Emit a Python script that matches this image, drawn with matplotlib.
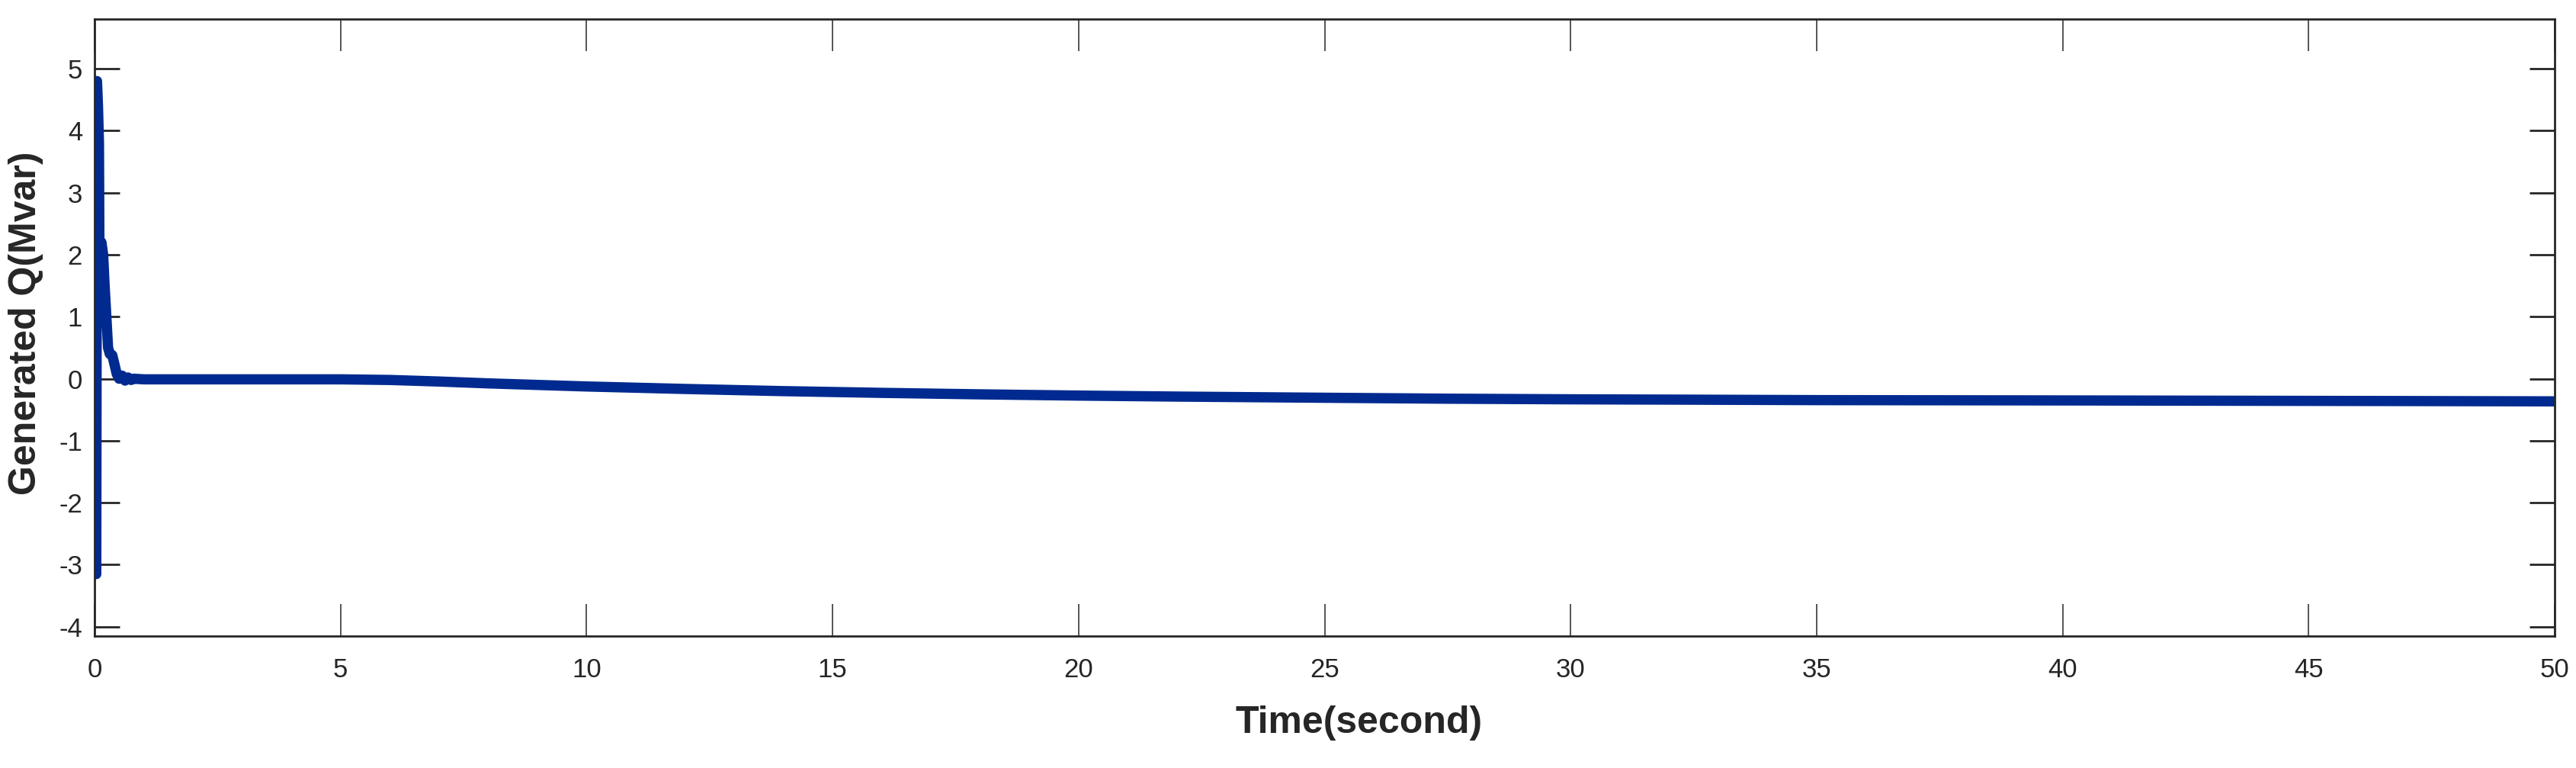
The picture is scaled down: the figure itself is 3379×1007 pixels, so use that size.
import matplotlib
matplotlib.use("Agg")
import matplotlib.pyplot as plt

# Generated reactive power vs time
time_s = [0.0, 0.035, 0.05, 0.07, 0.09, 0.105, 0.14, 0.175, 0.205, 0.24,
          0.275, 0.31, 0.36, 0.40, 0.45, 0.5, 0.56, 0.62, 0.68, 0.74, 0.8,
          1.0, 2.0, 3.0, 4.0, 5.0, 5.5, 6.0, 7.0, 8.0, 9.0, 10.0, 12.0,
          14.0, 16.0, 18.0, 20.0, 22.0, 25.0, 27.5, 30.0, 32.5, 35.0, 40.0,
          44.0, 47.0, 50.0]
q_mvar = [0.0, -3.15, 4.8, 4.4, 3.8, 0.9, 2.2, 2.0, 1.5, 1.0,
          0.5, 0.4, 0.38, 0.25, 0.08, 0.0, 0.05, -0.03, 0.02, -0.02, 0.0,
          -0.01, -0.01, -0.01, -0.01, -0.01, -0.015, -0.02, -0.045, -0.075,
          -0.1, -0.125, -0.165, -0.2, -0.228, -0.252, -0.272, -0.288, -0.307,
          -0.322, -0.332, -0.338, -0.345, -0.35, -0.356, -0.36, -0.365]

x_ticks = list(range(0, 51, 5))
y_ticks = list(range(-4, 6))

plt.rcParams['axes.unicode_minus'] = False
narrow = ['Liberation Sans Narrow', 'Liberation Sans', 'DejaVu Sans']
regular = ['Liberation Sans', 'DejaVu Sans']

fig = plt.figure(figsize=(33.8, 10.07), dpi=100)
ax = fig.add_axes([0.03669, 0.1718, 0.99142 - 0.03669, 0.97517 - 0.1718])

ax.plot(time_s, q_mvar, color='#002A8F', linewidth=9.7,
        solid_joinstyle='round', solid_capstyle='round')

ax.set_xlim(0, 50)
ax.set_ylim(-4.15, 5.8)
ax.set_xticks(x_ticks)
ax.set_yticks(y_ticks)

for s in ax.spines.values():
    s.set_linewidth(2.0)
    s.set_color('#262626')

ax.tick_params(axis='x', which='major', direction='in', top=True, bottom=True,
               length=30, width=1.1, color='#262626', pad=20,
               labelsize=25, labelcolor='#262626')
ax.tick_params(axis='y', which='major', direction='in', left=True, right=True,
               length=24, width=2.0, color='#262626', pad=11.5,
               labelsize=25, labelcolor='#262626')
for lab in ax.get_xticklabels() + ax.get_yticklabels():
    lab.set_family(narrow)

ax.set_xlabel('Time(second)', fontsize=36, fontweight='bold',
              family=narrow, color='#262626')
ax.xaxis.set_label_coords(0.514, -0.112)
ax.set_ylabel('Generated Q(Mvar)', fontsize=36, fontweight='bold',
              family=regular, color='#262626')
ax.yaxis.set_label_coords(-0.0208, 0.507)

fig.savefig('out.png', dpi=100, facecolor='white')
